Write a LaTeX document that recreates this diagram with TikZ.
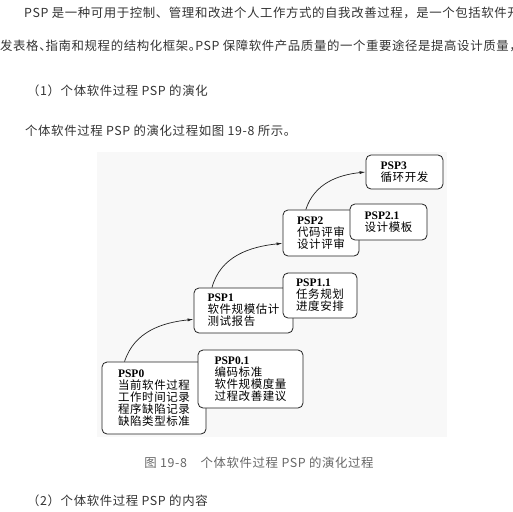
\documentclass[tikz,border=0pt]{standalone}
\usepackage{fontspec}
\setmainfont{Liberation Serif}
\newfontfamily\cjk[LetterSpace=5]{Noto Sans CJK SC}
\newfontfamily\pspfont{Liberation Serif}
\usepackage{xcolor}
\definecolor{cText}{HTML}{333333}
\definecolor{cCaption}{HTML}{666666}
\definecolor{cLine}{HTML}{222222}
\definecolor{cScan}{HTML}{F8F8F8}
\usepackage{tikz}
\usetikzlibrary{arrows.meta}
\tikzset{
  body-text/.style={inner sep=0pt,anchor=base west,text=cText,
    font=\cjk\fontsize{12.4}{14}\selectfont},
  caption-text/.style={inner sep=0pt,anchor=base,text=cCaption,
    font=\cjk\fontsize{12.4}{14}\selectfont},
  % 主干框先画，子框 (x.1) 叠在上面
  psp-box/.style={draw=cLine,line width=0.8pt,rounded corners=5pt,fill=white,
    align=left,inner sep=0pt,text=black,
    font=\cjk\fontsize{11.5}{12}\selectfont},
  arrow/.style={-{Latex[length=6pt,width=3pt]},line width=0.7pt,draw=cLine},
}
\newcommand{\pspname}[1]{{\pspfont\bfseries #1}}

\begin{document}
\begin{tikzpicture}[x=1pt,y=1pt]
  \useasboundingbox (0,0) rectangle (513,-511);
  \clip (0,0) rectangle (513,-511);
  \node[body-text] (line1) at (24,-18) {PSP 是一种可用于控制、管理和改进个人工作方式的自我改善过程，是一个包括软件开};
  \node[body-text] (line2) at (0,-50) {发表格、\kern-6pt指南和规程的结构化框架。\kern-6ptPSP 保障软件产品质量的一个重要途径是提高设计质量，};
  \node[body-text] (sec1) at (27,-95) {（1）个体软件过程 PSP 的演化};
  \node[body-text] (line4) at (25,-135) {个体软件过程 PSP 的演化过程如图 19-8 所示。};

  \fill[cScan] (97,-152) rectangle (447,-437);

  \node[psp-box,minimum width=104pt,minimum height=72pt] (psp0) at (154,-398)
    {\pspname{PSP0}\\当前软件过程\\工作时间记录\\程序缺陷记录\\缺陷类型标准};
  \node[psp-box,minimum width=99pt,minimum height=45pt] (psp1) at (243.5,-310.5)
    {\pspname{PSP1}\\软件规模估计\\测试报告};
  \node[psp-box,minimum width=76pt,minimum height=46pt] (psp2) at (321,-233)
    {\pspname{PSP2}\\代码评审\\设计评审};
  \node[psp-box,minimum width=77pt,minimum height=34pt] (psp3) at (404.5,-172)
    {\pspname{PSP3}\\循环开发};

  \node[psp-box,minimum width=105pt,minimum height=58pt] (psp01) at (250.5,-379)
    {\pspname{PSP0.1}\\编码标准\\软件规模度量\\过程改善建议};
  \node[psp-box,minimum width=74pt,minimum height=45pt] (psp11) at (320,-295.5)
    {\pspname{PSP1.1}\\任务规划\\进度安排};
  \node[psp-box,minimum width=77pt,minimum height=36pt] (psp21) at (388.5,-222)
    {\pspname{PSP2.1}\\设计模板};

  \draw[arrow] (psp0.129) to[out=72,in=186] (psp1.190);
  \draw[arrow] (psp1.144) to[out=75,in=186] (psp2.195);
  \draw[arrow] (psp2.123) to[out=72,in=186] (psp3.west);

  \node[caption-text] (caption) at (259,-467) {图 19-8　个体软件过程 PSP 的演化过程};
  \node[body-text] (sec2) at (27,-505) {（2）个体软件过程 PSP 的内容};
\end{tikzpicture}
\end{document}
